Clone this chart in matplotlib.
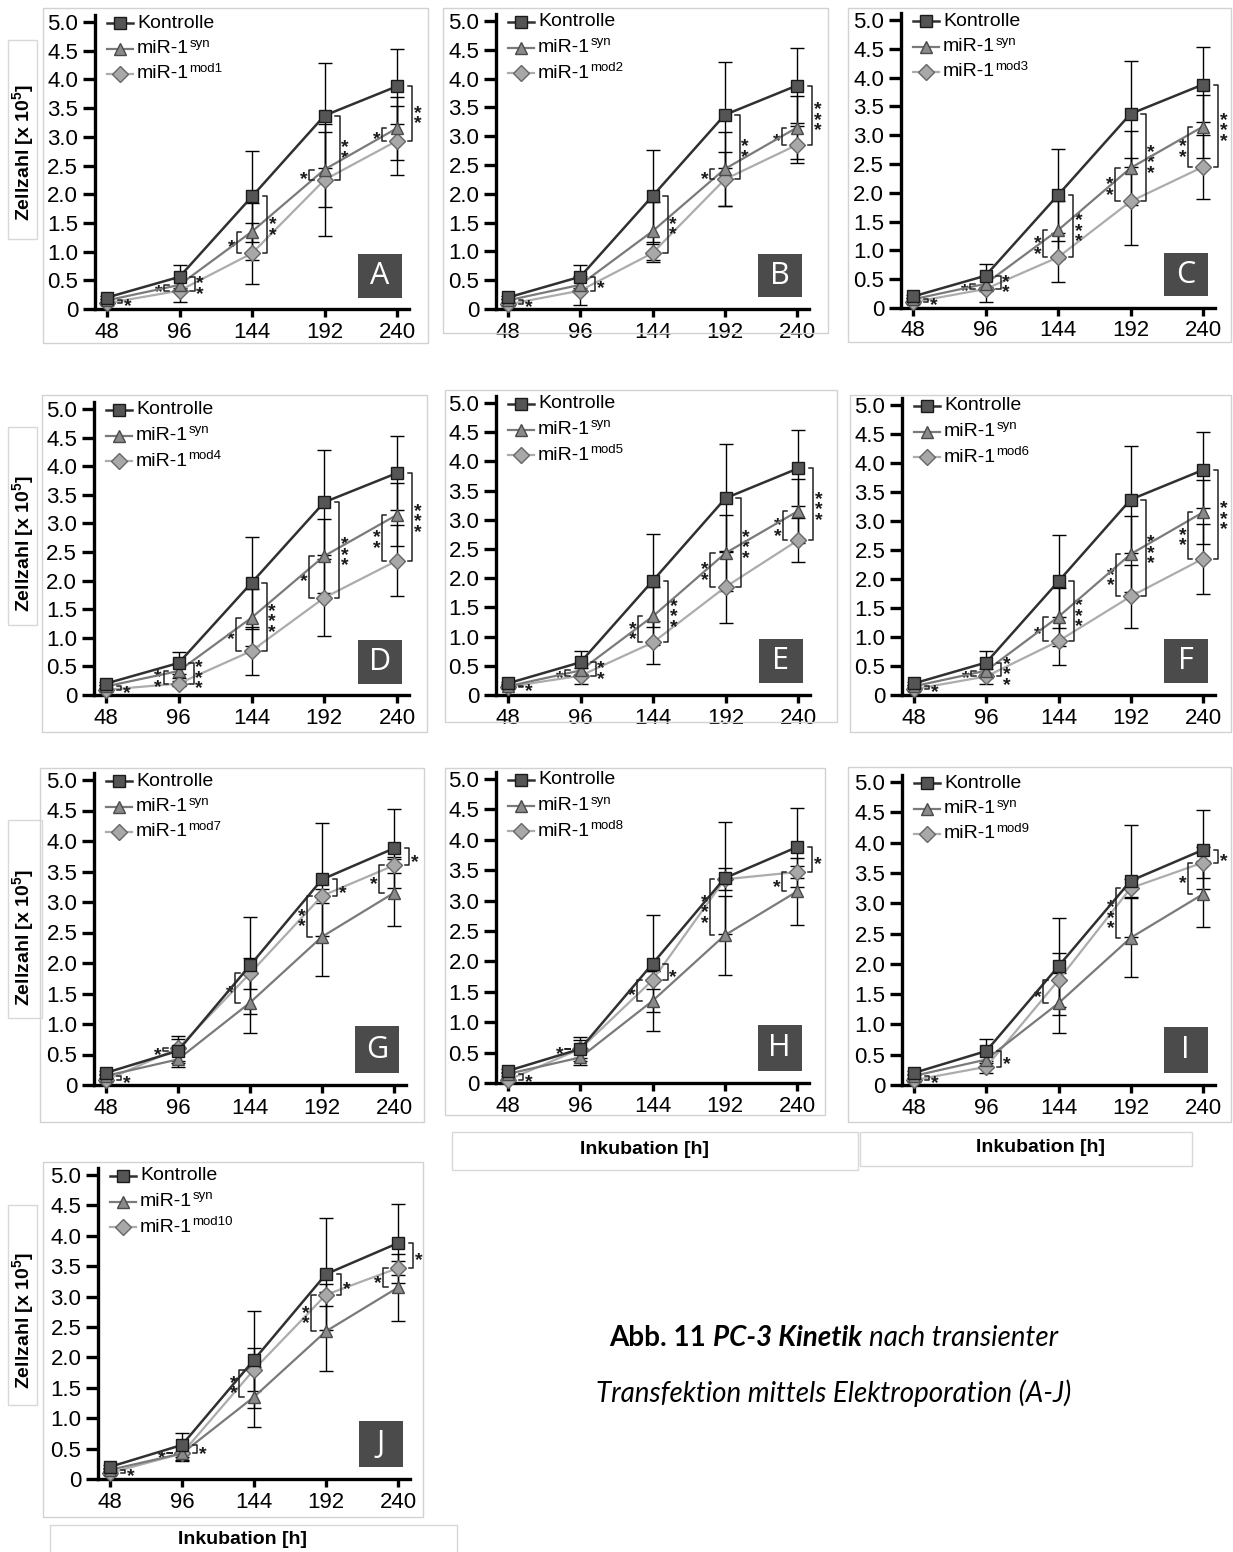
import matplotlib
matplotlib.use('Agg')
import matplotlib.pyplot as plt
from matplotlib.patches import Rectangle
from matplotlib.lines import Line2D
from matplotlib.ticker import FuncFormatter

plt.rcParams['font.family'] = ['Liberation Sans', 'DejaVu Sans']
plt.rcParams['mathtext.fontset'] = 'custom'
plt.rcParams['mathtext.rm'] = 'Liberation Sans'
plt.rcParams['mathtext.it'] = 'Liberation Sans:italic'
plt.rcParams['mathtext.bf'] = 'Liberation Sans:bold'

W, H = 1233, 1552

# ---- data (cell number x 10^5, mean and SD) ----
hours = [48, 96, 144, 192, 240]
kontrolle = [0.20, 0.56, 1.96, 3.37, 3.88]
kontrolle_sd = [0.03, 0.20, 0.80, 0.92, 0.65]
syn = [0.15, 0.42, 1.35, 2.43, 3.15]
syn_sd = [0.03, 0.12, 0.50, 0.65, 0.55]

letters = ['A', 'B', 'C', 'D', 'E', 'F', 'G', 'H', 'I', 'J']
mod_names = ['mod1', 'mod2', 'mod3', 'mod4', 'mod5', 'mod6', 'mod7', 'mod8', 'mod9', 'mod10']
mod_mean = [
    [0.10, 0.32, 0.97, 2.25, 2.93],
    [0.08, 0.32, 0.97, 2.25, 2.85],
    [0.10, 0.33, 0.88, 1.85, 2.45],
    [0.09, 0.20, 0.77, 1.70, 2.35],
    [0.14, 0.33, 0.90, 1.85, 2.65],
    [0.10, 0.32, 0.93, 1.70, 2.35],
    [0.08, 0.60, 1.83, 3.10, 3.60],
    [0.05, 0.56, 1.69, 3.35, 3.47],
    [0.08, 0.30, 1.73, 3.25, 3.67],
    [0.10, 0.42, 1.80, 3.03, 3.47],
]
mod_sd = [
    [0.03, 0.20, 0.53, 0.97, 0.60],
    [0.03, 0.25, 0.15, 0.47, 0.32],
    [0.03, 0.23, 0.43, 0.75, 0.55],
    [0.03, 0.05, 0.42, 0.67, 0.62],
    [0.03, 0.14, 0.37, 0.62, 0.38],
    [0.03, 0.13, 0.42, 0.55, 0.60],
    [0.03, 0.20, 0.25, 0.12, 0.13],
    [0.03, 0.15, 0.15, 0.18, 0.10],
    [0.03, 0.10, 0.45, 0.15, 0.25],
    [0.03, 0.10, 0.35, 0.18, 0.12],
]

# significance: (time index, pair, side, number of stars)
# pair 'km' = Kontrolle vs mod, 'sm' = miR-1syn vs mod
sig = [
    [(0, 'sm', 'R', 1), (1, 'sm', 'L', 1), (1, 'km', 'R', 2), (2, 'sm', 'L', 1), (2, 'km', 'R', 2),
     (3, 'sm', 'L', 1), (3, 'km', 'R', 2), (4, 'sm', 'L', 1), (4, 'km', 'R', 2)],
    [(0, 'sm', 'R', 1), (1, 'km', 'R', 1), (2, 'km', 'R', 2), (3, 'sm', 'L', 1), (3, 'km', 'R', 2),
     (4, 'sm', 'L', 1), (4, 'km', 'R', 3)],
    [(0, 'sm', 'R', 1), (1, 'sm', 'L', 1), (1, 'km', 'R', 2), (2, 'sm', 'L', 2), (2, 'km', 'R', 3),
     (3, 'sm', 'L', 2), (3, 'km', 'R', 3), (4, 'sm', 'L', 2), (4, 'km', 'R', 3)],
    [(0, 'sm', 'R', 1), (1, 'sm', 'L', 2), (1, 'km', 'R', 3), (2, 'sm', 'L', 1), (2, 'km', 'R', 3),
     (3, 'sm', 'L', 1), (3, 'km', 'R', 3), (4, 'sm', 'L', 2), (4, 'km', 'R', 3)],
    [(0, 'sm', 'R', 1), (1, 'sm', 'L', 1), (1, 'km', 'R', 2), (2, 'sm', 'L', 2), (2, 'km', 'R', 3),
     (3, 'sm', 'L', 2), (3, 'km', 'R', 3), (4, 'sm', 'L', 2), (4, 'km', 'R', 3)],
    [(0, 'sm', 'R', 1), (1, 'sm', 'L', 1), (1, 'km', 'R', 3), (2, 'sm', 'L', 1), (2, 'km', 'R', 3),
     (3, 'sm', 'L', 2), (3, 'km', 'R', 3), (4, 'sm', 'L', 2), (4, 'km', 'R', 3)],
    [(0, 'sm', 'R', 1), (1, 'km', 'L', 1), (2, 'sm', 'L', 1), (3, 'sm', 'L', 2), (3, 'km', 'R', 1),
     (4, 'sm', 'L', 1), (4, 'km', 'R', 1)],
    [(0, 'sm', 'R', 1), (1, 'km', 'L', 1), (2, 'sm', 'L', 1), (2, 'km', 'R', 1), (3, 'sm', 'L', 3),
     (4, 'sm', 'L', 1), (4, 'km', 'R', 1)],
    [(0, 'sm', 'R', 1), (1, 'km', 'R', 1), (2, 'sm', 'L', 1), (3, 'sm', 'L', 3),
     (4, 'sm', 'L', 1), (4, 'km', 'R', 1)],
    [(0, 'sm', 'R', 1), (1, 'sm', 'L', 1), (1, 'km', 'R', 1), (2, 'sm', 'L', 2), (3, 'sm', 'L', 2),
     (3, 'km', 'R', 1), (4, 'sm', 'L', 1), (4, 'km', 'R', 1)],
]

# ---- layout in pixels: x of tick 48, x of tick 240, y of 0, y of 5.0 ----
panel_px = [
    (107, 397, 309, 22), (508, 797, 309, 21), (913, 1203, 308, 20),
    (106, 397, 695, 409), (508, 798, 695, 403), (914, 1203, 695, 405),
    (106, 394, 1085, 780), (508, 797, 1083, 779), (914, 1203, 1085, 782),
    (110, 398, 1479, 1175),
]
frame_px = [
    (43, 8, 428, 343), (443, 8, 828, 333), (848, 8, 1231, 342),
    (42, 395, 427, 732), (445, 390, 837, 722), (850, 395, 1231, 732),
    (40, 768, 424, 1122), (445, 768, 825, 1115), (848, 767, 1231, 1122),
    (43, 1162, 423, 1517),
]
ylab_boxes = [(8, 40, 37, 239, 152), (8, 427, 37, 625, 543), (8, 820, 42, 1018, 937), (8, 1205, 37, 1405, 1320)]
xlab_boxes = [(452, 1132, 858, 1170), (860, 1132, 1192, 1166), (50, 1525, 457, 1575)]

K_STYLE = dict(color='#303030', lw=1.8, marker='s', ms=8, mfc='#555555', mec='#1a1a1a', mew=1.0)
S_STYLE = dict(color='#7a7a7a', lw=1.6, marker='^', ms=8, mfc='#8a8a8a', mec='#4a4a4a', mew=1.0)
M_STYLE = dict(color='#acacac', lw=1.6, marker='D', ms=8, mfc='#a8a8a8', mec='#666666', mew=1.0)

fig = plt.figure(figsize=(W / 100, H / 100), dpi=100)
renderer = fig.canvas.get_renderer()


def fx(x):
    return x / W


def fy(y):
    return 1 - y / H


def box(x0, y0, x1, y1, color='#d2d2d2', lw=1.0):
    fig.add_artist(Rectangle((fx(x0), fy(y1)), fx(x1) - fx(x0), fy(y0) - fy(y1),
                             transform=fig.transFigure, fill=False, edgecolor=color, linewidth=lw))


def bracket(ax, t, ya, yb, side, stars):
    sgn = 1 if side == 'R' else -1
    xb = t + sgn * 10
    lo, hi = sorted((ya, yb))
    ax.plot([xb - sgn * 3, xb, xb, xb - sgn * 3], [lo, lo, hi, hi], color='#222222', lw=1.1,
            clip_on=False, zorder=6)
    xt = xb + sgn * 1.0
    ha = 'left' if side == 'R' else 'right'
    txt = '\n'.join('*' * stars)
    ax.text(xt, (lo + hi) / 2 - 0.09, txt, ha=ha, va='center', fontsize=14, fontweight='bold',
            color='#1a1a1a', linespacing=0.5, multialignment='center')


def legend_entry(x, y, style, label, sup=None):
    st = dict(style)
    ls = dict(color=st.pop('color'), lw=st.pop('lw'))
    fig.add_artist(Line2D([fx(x), fx(x + 26)], [fy(y), fy(y)], transform=fig.transFigure, **ls))
    fig.add_artist(Line2D([fx(x + 13)], [fy(y)], transform=fig.transFigure, linestyle='none', **st))
    t = fig.text(fx(x + 30), fy(y), label, ha='left', va='center', fontsize=14)
    if sup:
        w = t.get_window_extent(renderer).width
        fig.text(fx(x + 30 + w + 0.5), fy(y - 5), sup, ha='left', va='center', fontsize=9.5)


for f in frame_px:
    box(*f)

for i in range(10):
    x48, x240, y0, y5 = panel_px[i]
    ppx = (x240 - x48) / 192
    ppy = (y0 - y5) / 5
    left = x48 - 8 * ppx
    right = x240 + 8 * ppx
    top = y0 - 5.12 * ppy
    ax = fig.add_axes([fx(left), fy(y0), fx(right) - fx(left), fy(top) - fy(y0)])
    ax.set_xlim(40, 248)
    ax.set_ylim(0, 5.12)
    ax.patch.set_alpha(0)

    # error bars
    for m, s in [(mod_mean[i], mod_sd[i]), (syn, syn_sd), (kontrolle, kontrolle_sd)]:
        eb = ax.errorbar(hours, m, yerr=s, fmt='none', ecolor='black', elinewidth=1.0,
                         capsize=5, capthick=1.0, zorder=2)
        for art in eb.lines[1] + eb.lines[2]:
            art.set_clip_on(False)

    ax.plot(hours, mod_mean[i], zorder=3, clip_on=False, **M_STYLE)
    ax.plot(hours, syn, zorder=4, clip_on=False, **S_STYLE)
    ax.plot(hours, kontrolle, zorder=5, clip_on=False, **K_STYLE)

    for (t, pair, side, n) in sig[i]:
        ref = kontrolle[t] if pair == 'km' else syn[t]
        bracket(ax, hours[t], ref, mod_mean[i][t], side, n)

    # legend
    legend_entry(x48, y5 + 1, K_STYLE, 'Kontrolle')
    legend_entry(x48, y5 + 26.5, S_STYLE, 'miR-1', 'syn')
    legend_entry(x48, y5 + 52, M_STYLE, 'miR-1', mod_names[i])

    # panel letter
    ax.add_patch(Rectangle((214, 0.2), 29, 0.76, facecolor='#4b4b4b', edgecolor='none', zorder=7))
    ax.text(228.5, 0.58, letters[i], color='white', ha='center', va='center', fontsize=22,
            family='Open Sans', zorder=8)

    ax.spines['top'].set_visible(False)
    ax.spines['right'].set_visible(False)
    for sp in ['left', 'bottom']:
        ax.spines[sp].set_linewidth(2.4)
        ax.spines[sp].set_color('black')
    ax.set_xticks(hours)
    ax.set_yticks([0, 0.5, 1.0, 1.5, 2.0, 2.5, 3.0, 3.5, 4.0, 4.5, 5.0])
    ax.yaxis.set_major_formatter(FuncFormatter(lambda v, p: '0' if v == 0 else f'{v:.1f}'))
    ax.tick_params(axis='y', length=9, width=2.4, labelsize=16, pad=3)
    ax.tick_params(axis='x', length=6, width=2.4, labelsize=16, pad=3)

# y-axis labels
for (x0, y0, x1, y1, yc) in ylab_boxes:
    box(x0, y0, x1, y1, color='#d8d8d8')
    fig.text(fx(23), fy(yc), r'Zellzahl [x 10$^{\mathbf{5}}$]', rotation=90, ha='center',
             va='center', fontsize=14, fontweight='bold')

# x-axis labels
for (x0, y0, x1, y1) in xlab_boxes:
    box(x0, y0, x1, y1, color='#d8d8d8')
fig.text(fx(645), fy(1150), 'Inkubation [h]', ha='center', va='center', fontsize=14, fontweight='bold')
fig.text(fx(1040), fy(1148), 'Inkubation [h]', ha='center', va='center', fontsize=14, fontweight='bold')
fig.text(fx(243), fy(1540), 'Inkubation [h]', ha='center', va='center', fontsize=14, fontweight='bold')

# caption
cap_size = 20
parts = [('Abb. 11', 'normal', 'bold'), ('PC-3 Kinetik', 'italic', 'bold'),
         ('nach transienter', 'italic', 'normal')]
gap = 0.25 * cap_size * 100 / 72
texts = []
total = 0
for s, st, wt in parts:
    t = fig.text(0, fy(1338), s, fontsize=cap_size, style=st, fontweight=wt, family='Lato',
                 ha='left', va='center')
    w = t.get_window_extent(renderer).width
    texts.append((t, w))
    total += w
total += gap * (len(parts) - 1)
xpos = 834 - total / 2
for t, w in texts:
    t.set_x(fx(xpos))
    xpos += w + gap
fig.text(fx(834), fy(1393), 'Transfektion mittels Elektroporation (A-J)', fontsize=cap_size,
         style='italic', family='Lato', ha='center', va='center')

fig.savefig('out.png', dpi=100)
